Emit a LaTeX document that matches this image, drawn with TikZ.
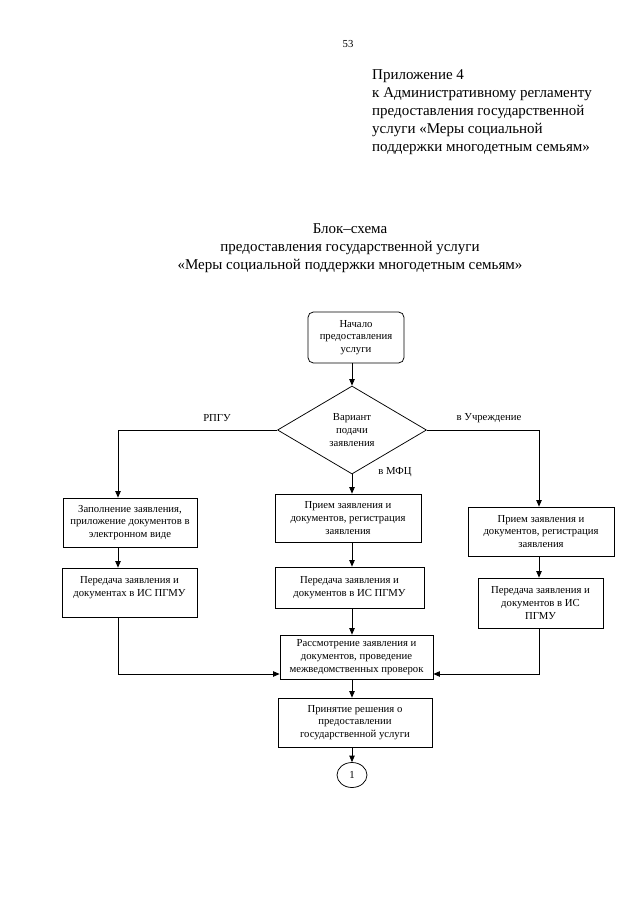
\documentclass[tikz,border=0pt]{standalone}
\usepackage{fontspec}
\setmainfont{Liberation Serif}
\usetikzlibrary{arrows.meta}
\usetikzlibrary{shapes.geometric}
\newcommand{\pxl}{0.328125mm}
\tikzset{blok/.style = {draw, line width=0.7pt, align=center, inner sep=2pt,
                        font=\fontsize{10}{12}\selectfont},
         strelka/.style = {-{Triangle[length=6pt,width=5pt]}, line width=0.7pt},
         podpis/.style = {font=\fontsize{10}{12}\selectfont}}

\begin{document}
\begin{tikzpicture}[x=\pxl, y=-\pxl]
  \useasboundingbox (0,0) rectangle (640,905);

  \node[podpis] (nomer) at (348,44) {53};
  \node[anchor=north west, align=left, inner sep=0pt, font=\fontsize{14}{16.8}\selectfont] (prilozhenie) at (372,69)
    {Приложение 4\\к Административному регламенту\\предоставления государственной\\услуги «Меры социальной\\поддержки многодетным семьям»};
  \node[anchor=north, align=center, inner sep=0pt, font=\fontsize{14}{17}\selectfont] (zagolovok) at (350,223)
    {Блок–схема\\предоставления государственной услуги\\«Меры социальной поддержки многодетным семьям»};

  \coordinate (lx) at (118,0);
  \coordinate (mx) at (352,0);
  \coordinate (rx) at (539,0);
  \coordinate (vhod) at (0,674);

  \node[blok, rounded corners=5pt, minimum width=96*\pxl, minimum height=51*\pxl] (nachalo) at (356,337.5)
    {Начало\\предоставления\\услуги};
  \node[blok, diamond, minimum width=149*\pxl, minimum height=88*\pxl, inner sep=0pt] (variant) at (352,430)
    {Вариант\\подачи\\заявления};

  \node[blok, minimum width=134*\pxl, minimum height=49*\pxl] (rpgu1) at (130,522.5)
    {Заполнение заявления,\\приложение документов в\\электронном виде};
  \node[blok, minimum width=135*\pxl, minimum height=49*\pxl] (rpgu2) at (129.5,592.5)
    {Передача заявления и\\документах в ИС ПГМУ\\ };
  \node[blok, minimum width=146*\pxl, minimum height=48*\pxl] (mfc1) at (348,518)
    {Прием заявления и\\документов, регистрация\\заявления};
  \node[blok, minimum width=149*\pxl, minimum height=41*\pxl] (mfc2) at (349.5,587.5)
    {Передача заявления и\\документов в ИС ПГМУ};
  \node[blok, minimum width=146*\pxl, minimum height=49*\pxl] (uchr1) at (541,531.5)
    {Прием заявления и\\документов, регистрация\\заявления};
  \node[blok, minimum width=125*\pxl, minimum height=50*\pxl] (uchr2) at (540.5,603)
    {Передача заявления и\\документов в ИС\\ПГМУ};
  \node[blok, minimum width=153*\pxl, minimum height=44*\pxl] (rassm) at (356.5,657)
    {Рассмотрение заявления и\\документов, проведение\\межведомственных проверок};
  \node[blok, minimum width=154*\pxl, minimum height=49*\pxl] (reshenie) at (355,722.5)
    {Принятие решения о\\предоставлении\\государственной услуги};
  \node[blok, ellipse, minimum width=30*\pxl, minimum height=25*\pxl, inner sep=0pt] (perehod) at (352,775) {1};

  \node[podpis] (metka1) at (217,418) {РПГУ};
  \node[podpis] (metka2) at (489,418) {в Учреждение};
  \node[podpis] (metka3) at (395,472) {в МФЦ};

  \draw[strelka] (nachalo.south -| mx) -- (variant.north);
  \draw[strelka] (variant.west) -| (lx |- rpgu1.north);
  \draw[strelka] (variant.east) -| (rx |- uchr1.north);
  \draw[strelka] (variant.south) -- (mx |- mfc1.north);
  \draw[strelka] (lx |- rpgu1.south) -- (lx |- rpgu2.north);
  \draw[strelka] (mx |- mfc1.south) -- (mx |- mfc2.north);
  \draw[strelka] (rx |- uchr1.south) -- (rx |- uchr2.north);
  \draw[strelka] (lx |- rpgu2.south) |- (vhod -| rassm.west);
  \draw[strelka] (rx |- uchr2.south) |- (vhod -| rassm.east);
  \draw[strelka] (mx |- mfc2.south) -- (mx |- rassm.north);
  \draw[strelka] (mx |- rassm.south) -- (mx |- reshenie.north);
  \draw[strelka] (mx |- reshenie.south) -- (perehod.north);
\end{tikzpicture}
\end{document}
